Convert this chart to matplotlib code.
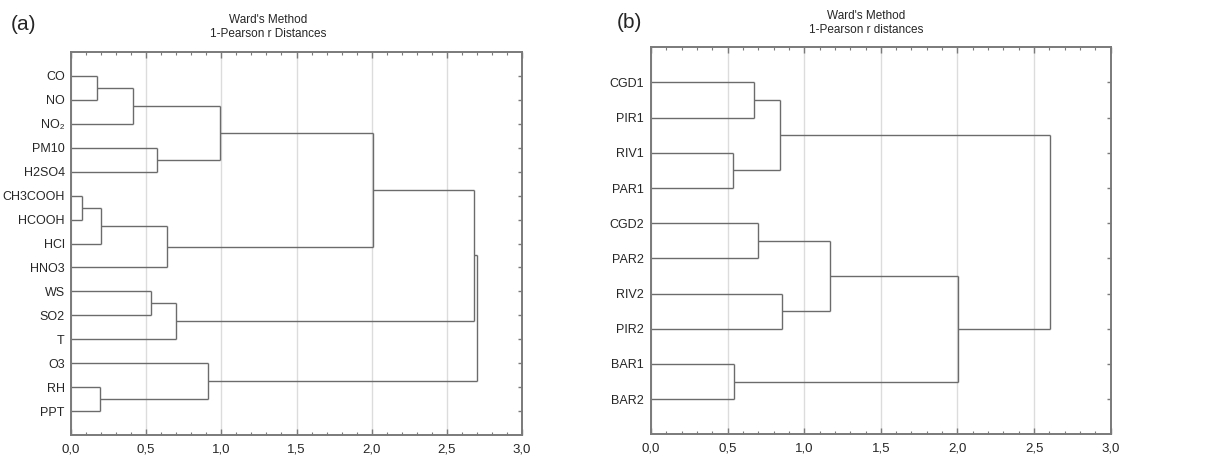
import matplotlib
matplotlib.use("Agg")
import matplotlib.pyplot as plt
from matplotlib.ticker import MultipleLocator, FixedLocator, FuncFormatter

plt.rcParams['font.family'] = ['Liberation Sans', 'DejaVu Sans']

# ---------- data ----------
labels_a = ["CO", "NO", "NO₂", "PM10", "H2SO4", "CH3COOH", "HCOOH", "HCl",
            "HNO3", "WS", "SO2", "T", "O3", "RH", "PPT"]
# merges: (child_a, child_b, height); leaves 0..n-1, new nodes n, n+1, ...
merges_a = [
    (0, 1, 0.17),    # 15 CO-NO
    (15, 2, 0.415),  # 16 +NO2
    (3, 4, 0.573),   # 17 PM10-H2SO4
    (16, 17, 0.99),  # 18
    (5, 6, 0.071),   # 19 CH3COOH-HCOOH
    (19, 7, 0.198),  # 20 +HCl
    (20, 8, 0.638),  # 21 +HNO3
    (18, 21, 2.011), # 22
    (9, 10, 0.531),  # 23 WS-SO2
    (23, 11, 0.70),  # 24 +T
    (22, 24, 2.678), # 25
    (13, 14, 0.195), # 26 RH-PPT
    (12, 26, 0.911), # 27 O3 + (RH,PPT)
    (25, 27, 2.70),  # 28
]

labels_b = ["CGD1", "PIR1", "RIV1", "PAR1", "CGD2", "PAR2", "RIV2", "PIR2",
            "BAR1", "BAR2"]
merges_b = [
    (0, 1, 0.674),   # 10
    (2, 3, 0.535),   # 11
    (10, 11, 0.844), # 12
    (4, 5, 0.698),   # 13
    (6, 7, 0.853),   # 14
    (13, 14, 1.166), # 15
    (8, 9, 0.542),   # 16
    (15, 16, 2.004), # 17
    (12, 17, 2.604), # 18
]

titles = ["Ward's Method\n1-Pearson r Distances", "Ward's Method\n1-Pearson r distances"]
xticks = [0.0, 0.5, 1.0, 1.5, 2.0, 2.5, 3.0]

LINE = "#6b6b6b"
SPINE = "#7a7a7a"
TEXT = "#262626"


def draw_dendro(ax, labels, merges, pad):
    n = len(labels)
    ypos = {i: i + 1 for i in range(n)}
    xpos = {i: 0.0 for i in range(n)}
    for k, (a, b, h) in enumerate(merges):
        node = n + k
        ya, yb = ypos[a], ypos[b]
        ax.plot([xpos[a], h], [ya, ya], color=LINE, lw=1.0, solid_capstyle='butt')
        ax.plot([xpos[b], h], [yb, yb], color=LINE, lw=1.0, solid_capstyle='butt')
        ax.plot([h, h], [ya, yb], color=LINE, lw=1.0, solid_capstyle='butt')
        ypos[node] = (ya + yb) / 2.0
        xpos[node] = h
    ax.set_ylim(n + 1, 0)
    ax.set_xlim(0, 3.0)
    ax.set_yticks(range(1, n + 1))
    ax.set_yticklabels(labels, fontsize=9)
    ax.xaxis.set_major_locator(FixedLocator(xticks))
    ax.xaxis.set_minor_locator(MultipleLocator(0.1))
    ax.xaxis.set_major_formatter(FuncFormatter(lambda v, p: f"{v:.1f}".replace('.', ',')))
    ax.grid(axis='x', which='major', color='#dcdcdc', lw=1.0)
    ax.set_axisbelow(True)
    ax.tick_params(axis='x', which='both', direction='in', top=True, bottom=True,
                   colors=SPINE, labelcolor=TEXT, labelsize=9.5, pad=6)
    ax.tick_params(axis='x', which='major', length=4, width=1)
    ax.tick_params(axis='x', which='minor', length=2.5, width=0.8)
    ax.tick_params(axis='y', which='major', direction='in', left=False, right=True,
                   length=3, width=1, colors=SPINE, labelcolor=TEXT, pad=pad)
    for s in ax.spines.values():
        s.set_color(SPINE)
        s.set_linewidth(1.4)


fig = plt.figure(figsize=(12.2, 4.57), dpi=100)
ax1 = fig.add_axes([0.0582, 0.0481, 0.3697, 0.8381])
ax2 = fig.add_axes([0.5336, 0.0497, 0.3768, 0.8468])

draw_dendro(ax1, labels_a, merges_a, pad=4.5)
draw_dendro(ax2, labels_b, merges_b, pad=5)

fig.text(268 / 1220, 1 - 27 / 457, titles[0], ha='center', va='center',
         fontsize=8.5, color=TEXT, linespacing=1.3)
fig.text(866 / 1220, 1 - 23 / 457, titles[1], ha='center', va='center',
         fontsize=8.5, color=TEXT, linespacing=1.3)
fig.text(11 / 1220, 1 - 24 / 457, "(a)", ha='left', va='center', fontsize=15, color=TEXT)
fig.text(617 / 1220, 1 - 23 / 457, "(b)", ha='left', va='center', fontsize=15, color=TEXT)

fig.savefig("out.png", dpi=100)
